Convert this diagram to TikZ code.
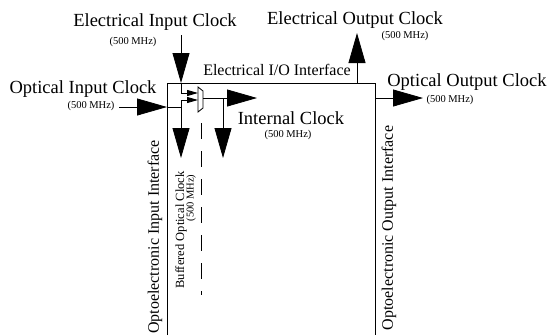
\documentclass[tikz,border=0pt]{standalone}
\usepackage{fontspec}
\setmainfont{Liberation Serif}
\usetikzlibrary{arrows.meta}

\begin{document}
\begin{tikzpicture}[x=1pt,y=-1pt,
  big/.style={font=\fontsize{18.5}{20}\selectfont,inner sep=0pt},
  mid/.style={font=\fontsize{16}{18}\selectfont,inner sep=0pt},
  buf/.style={font=\fontsize{12.5}{14}\selectfont,inner sep=0pt},
  freq/.style={font=\fontsize{10.5}{12}\selectfont,inner sep=0pt},
  wire/.style={line width=0.8pt},
  bigarr/.style={wire,-{Triangle[length=30pt,width=17pt]}},
  smallarr/.style={wire,-{Triangle[length=11pt,width=6pt]}}]
\useasboundingbox (0,0) rectangle (552,335);
% the chip outline, its bottom lies below the picture
\coordinate (bl) at (167,335);
\coordinate (tl) at (167,83);
\coordinate (tr) at (375,83);
\coordinate (br) at (375,335);
\draw[wire] (bl) -- (tl) -- (tr) -- (br);
% labels outside the chip
\node[big]  (eic)  at (155,22)  {Electrical Input Clock};
\node[freq] (eicf) at (133,42)  {(500 MHz)};
\node[big]  (eoc)  at (355,20)  {Electrical Output Clock};
\node[freq] (eocf) at (405,36)  {(500 MHz)};
\node[mid]  (eio)  at (277,70)  {Electrical I/O Interface};
\node[big]  (oic)  at (83,89)   {Optical Input Clock};
\node[freq] (oicf) at (91,106)  {(500 MHz)};
\node[big]  (ooc)  at (467,82)  {Optical Output Clock};
\node[freq] (oocf) at (450,100) {(500 MHz)};
\node[big]  (ic)   at (291,118) {Internal Clock};
\node[freq] (icf)  at (288,135) {(500 MHz)};
\node[mid,rotate=90]  (oii)  at (155,237) {Optoelectronic Input Interface};
\node[buf,rotate=90]  (boc)  at (181,230) {Buffered Optical Clock};
\node[freq,rotate=90] (bocf) at (191,198) {(500 MHz)};
\node[mid,rotate=90]  (ooi)  at (389,228) {Optoelectronic Output Interface};
% clock inputs
\coordinate (eiTop) at (181,35);
\coordinate (eiIn)  at (181,83);
\coordinate (eiBnd) at (181,93);
\coordinate (oiSrc) at (119,107);
\coordinate (oiIn)  at (167,107);
\coordinate (oiBr)  at (181,107);
\coordinate (oiUp)  at (181,100);
\coordinate (bocTip) at (181,158);
\draw[bigarr] (eiTop) -- (eiIn);
\draw[bigarr] (oiSrc) -- (oiIn);
\draw[wire] (eiIn) -- (eiBnd);
\draw[wire] (oiIn) -- (oiBr);
% the multiplexer
\coordinate (m1) at (198,87);
\coordinate (m2) at (203,91);
\coordinate (m3) at (203,108);
\coordinate (m4) at (198,112);
\draw[wire] (m1) -- (m2) -- (m3) -- (m4) -- cycle;
\draw[smallarr] (eiBnd) -- (198,93);
\draw[smallarr] (oiUp) -- (198,100);
\draw[bigarr] (oiUp) -- (bocTip);
% internal clock
\coordinate (mOut) at (203,98);
\coordinate (icBr) at (223,98);
\coordinate (icTip) at (257,98);
\coordinate (icDn) at (223,158);
\draw[bigarr] (mOut) -- (icTip);
\draw[bigarr] (icBr) -- (icDn);
\draw[wire,dash pattern=on 16pt off 12pt] (201,123) -- (201,295);
% clock outputs
\coordinate (eoOut) at (357,83);
\coordinate (eoTip) at (357,33);
\coordinate (ooOut) at (375,98);
\coordinate (ooTip) at (423,98);
\draw[bigarr] (eoOut) -- (eoTip);
\draw[bigarr] (ooOut) -- (ooTip);
\end{tikzpicture}
\end{document}
